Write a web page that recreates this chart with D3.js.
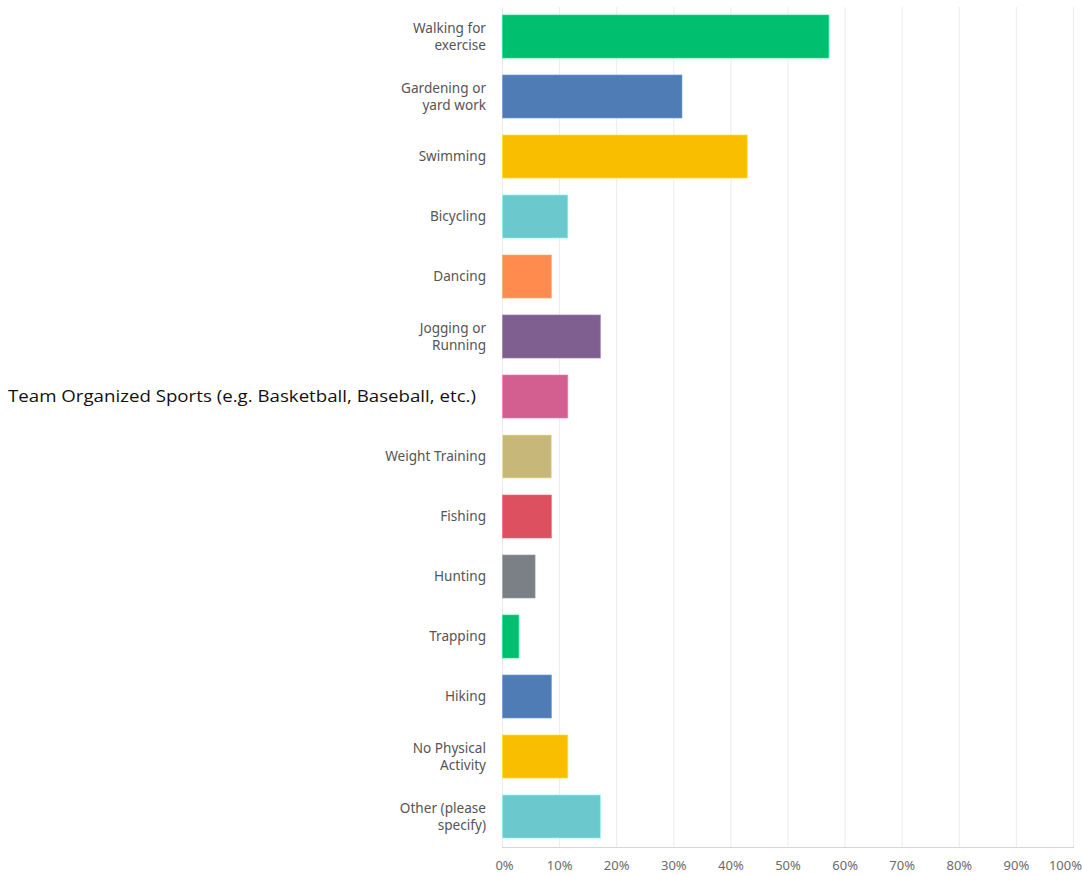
<!DOCTYPE html>
<html>
<head>
<meta charset="utf-8">
<script src="https://cdn.jsdelivr.net/npm/d3@7"></script>
<style>
  html, body { margin: 0; padding: 0; background: #fff; }
  svg { display: block; }
</style>
</head>
<body>
<svg id="chart" width="1082" height="876"></svg>
<script>
// Activities (label lines separated by "\n")
const categories = [
  "Walking for\nexercise",
  "Gardening or\nyard work",
  "Swimming",
  "Bicycling",
  "Dancing",
  "Jogging or\nRunning",
  "Team Organized Sports (e.g. Basketball, Baseball, etc.)",
  "Weight Training",
  "Fishing",
  "Hunting",
  "Trapping",
  "Hiking",
  "No Physical\nActivity",
  "Other (please\nspecify)"
];
// Share of respondents, percent
const values = [57.14, 31.43, 42.86, 11.43, 8.57, 17.14, 11.43, 8.57, 8.57, 5.71, 2.86, 8.57, 11.43, 17.14];
const palette = ["#00bf6f", "#507cb6", "#f9be00", "#6bc8cd", "#ff8b4f", "#7f5f90", "#d25f90",
                 "#c7b879", "#dc5060", "#7a8085", "#00bf6f", "#507cb6", "#f9be00", "#6bc8cd"];
const tickValues = [0, 10, 20, 30, 40, 50, 60, 70, 80, 90, 100];
const tickLabels = ["0%", "10%", "20%", "30%", "40%", "50%", "60%", "70%", "80%", "90%", "100%"];

const svg = d3.select("#chart");
const x = d3.scaleLinear().domain([0, 100]).range([502, 1073]);
const y = d3.scaleBand().domain(d3.range(categories.length))
  .range([6.5, 846.5]).paddingInner(0.283).paddingOuter(0.1415);

// vertical gridlines
svg.append("g").selectAll("line").data(tickValues).join("line")
  .attr("x1", d => x(d) + 0.5).attr("x2", d => x(d) + 0.5)
  .attr("y1", 7).attr("y2", 847)
  .attr("stroke", "#ececec").attr("stroke-width", 1);

// bottom axis with percent labels
const axis = d3.axisBottom(x).tickValues(tickValues)
  .tickFormat((d, i) => tickLabels[i]).tickSize(0).tickPadding(13);
const ax = svg.append("g").attr("transform", "translate(0,847.5)").call(axis);
ax.select(".domain").attr("stroke", "#d6d6d6").attr("d", `M${x(0)},0H${x(100) + 1}`);
ax.selectAll(".tick text")
  .attr("font-family", "'Noto Sans', sans-serif").attr("font-size", 13)
  .attr("fill", "#6b6b6b")
  .attr("dx", d => d === 100 ? -8 : (d === 0 ? 2 : 0));

// bars
svg.append("g").selectAll("rect").data(values).join("rect")
  .attr("x", x(0) + 0.5)
  .attr("y", (d, i) => y(i))
  .attr("width", d => x(d) - x(0))
  .attr("height", y.bandwidth())
  .attr("fill", (d, i) => palette[i])
  .attr("stroke", (d, i) => d3.color(palette[i]).brighter(0.6))
  .attr("stroke-opacity", 0.6)
  .attr("stroke-width", 1);

// category labels
const labels = svg.append("g").selectAll("text").data(categories).join("text")
  .attr("text-anchor", "end")
  .attr("font-family", "'Noto Sans', sans-serif")
  .attr("font-size", 13.6)
  .attr("fill", "#555");

labels.each(function (d, i) {
  const t = d3.select(this);
  const cy = y(i) + y.bandwidth() / 2;
  if (d.length > 30) {
    // long single-line label in a larger dark face
    t.attr("x", 476).attr("y", cy + 5.5)
      .attr("font-family", "'Open Sans', 'Noto Sans', sans-serif")
      .attr("font-size", 16.5).attr("fill", "#111")
      .attr("textLength", 468).attr("lengthAdjust", "spacingAndGlyphs")
      .text(d);
    return;
  }
  const lines = d.split("\n");
  const lh = 17;
  const y0 = cy - (lines.length - 1) * lh / 2 + 4.8;
  t.attr("x", 486);
  lines.forEach((ln, k) => {
    t.append("tspan").attr("x", 486).attr("y", y0 + k * lh).text(ln);
  });
});
</script>
</body>
</html>
